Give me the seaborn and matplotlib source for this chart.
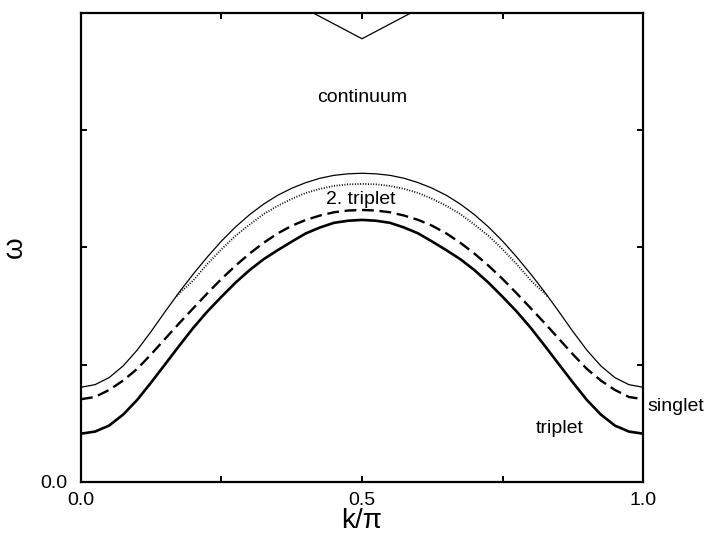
import numpy as np
import pandas as pd
import matplotlib
matplotlib.use("Agg")
import matplotlib.pyplot as plt
import seaborn as sns

# ---- data ----
k = [0.000, 0.025, 0.050, 0.075, 0.100, 0.125, 0.150, 0.175, 0.200, 0.225, 0.250,
     0.275, 0.300, 0.325, 0.350, 0.375, 0.400, 0.425, 0.450, 0.475, 0.500,
     0.525, 0.550, 0.575, 0.600, 0.625, 0.650, 0.675, 0.700, 0.725, 0.750,
     0.775, 0.800, 0.825, 0.850, 0.875, 0.900, 0.925, 0.950, 0.975, 1.000]
continuum_lower = [0.808, 0.830, 0.890, 0.990, 1.125, 1.285, 1.455, 1.620, 1.775, 1.920, 2.055,
                   2.175, 2.280, 2.370, 2.445, 2.505, 2.553, 2.590, 2.615, 2.628, 2.633,
                   2.628, 2.615, 2.590, 2.553, 2.505, 2.445, 2.370, 2.280, 2.175, 2.055,
                   1.920, 1.775, 1.620, 1.455, 1.285, 1.125, 0.990, 0.890, 0.830, 0.808]
singlet = [0.706, 0.725, 0.785, 0.865, 0.965, 1.090, 1.223, 1.355, 1.483, 1.610, 1.732,
           1.845, 1.948, 2.040, 2.120, 2.185, 2.235, 2.272, 2.300, 2.315, 2.320,
           2.315, 2.300, 2.272, 2.235, 2.185, 2.120, 2.040, 1.948, 1.845, 1.732,
           1.610, 1.483, 1.355, 1.223, 1.090, 0.965, 0.865, 0.785, 0.725, 0.706]
triplet = [0.412, 0.430, 0.481, 0.575, 0.700, 0.850, 1.006, 1.163, 1.316, 1.455, 1.580,
           1.700, 1.807, 1.900, 1.977, 2.050, 2.120, 2.170, 2.210, 2.228, 2.235,
           2.228, 2.210, 2.170, 2.120, 2.050, 1.977, 1.900, 1.807, 1.700, 1.580,
           1.455, 1.316, 1.163, 1.006, 0.850, 0.700, 0.575, 0.481, 0.430, 0.412]
k2 = [0.170, 0.200, 0.225, 0.250, 0.275, 0.300, 0.325, 0.350, 0.375, 0.400, 0.425, 0.450, 0.475,
      0.500, 0.525, 0.550, 0.575, 0.600, 0.625, 0.650, 0.675, 0.700, 0.725, 0.750, 0.775, 0.800, 0.830]
triplet2 = [1.585, 1.720, 1.860, 1.985, 2.100, 2.195, 2.285, 2.355, 2.415, 2.465, 2.500, 2.525, 2.538,
            2.542, 2.538, 2.525, 2.500, 2.465, 2.415, 2.355, 2.285, 2.195, 2.100, 1.985, 1.860, 1.720, 1.585]
k_up = [0.413, 0.500, 0.587]
continuum_upper = [4.00, 3.78, 4.00]

x_ticks = [0.0, 0.25, 0.5, 0.75, 1.0]
x_ticklabels = ["0.0", "", "0.5", "", "1.0"]
y_ticks = [0, 1, 2, 3, 4]
y_ticklabels = ["0.0", "", "", "", ""]

# ---- styling ----
sns.set_style("ticks")
plt.rcParams['font.family'] = ['Liberation Sans', 'DejaVu Sans']
plt.rcParams['text.color'] = 'black'
plt.rcParams['axes.labelcolor'] = 'black'

fig = plt.figure(figsize=(7.08, 5.33), dpi=100)
ax = fig.add_axes([0.1144, 0.0957, 0.7938, 0.8800])

sns.lineplot(x=k, y=continuum_lower, ax=ax, color='black', lw=0.9)
sns.lineplot(x=k2, y=triplet2, ax=ax, color='black', lw=1.3, linestyle=(0, (0.55, 0.9)))
sns.lineplot(x=k, y=singlet, ax=ax, color='black', lw=1.7, linestyle=(0, (5, 2.4)))
sns.lineplot(x=k, y=triplet, ax=ax, color='black', lw=1.9)
sns.lineplot(x=k_up, y=continuum_upper, ax=ax, color='black', lw=0.9)

ax.set_xlim(0, 1)
ax.set_ylim(0, 4)
ax.set_xticks(x_ticks)
ax.set_xticklabels(x_ticklabels)
ax.set_yticks(y_ticks)
ax.set_yticklabels(y_ticklabels)
ax.tick_params(direction='in', length=4, width=1.4, top=True, right=True,
               labelsize=14, colors='black')
ax.tick_params(axis='x', pad=7)
ax.tick_params(axis='y', pad=10)
for s in ax.spines.values():
    s.set_linewidth(1.6)
    s.set_color('black')
    s.set_visible(True)

ax.set_xlabel("k/\u03c0", fontsize=20, color='black')
ax.set_ylabel("\u03c9", fontsize=20, color='black')
ax.xaxis.set_label_coords(0.5, -0.055)
ax.yaxis.set_label_coords(-0.094, 0.5)

ax.text(0.5, 3.275, "continuum", fontsize=14, ha='center', va='center', color='black')
ax.text(0.498, 2.405, "2. triplet", fontsize=14, ha='center', va='center', color='black')
ax.text(1.007, 0.642, "singlet", fontsize=14, ha='left', va='center', clip_on=False, color='black')
ax.text(0.852, 0.46, "triplet", fontsize=14, ha='center', va='center', color='black')

fig.savefig("out.png", dpi=100)
